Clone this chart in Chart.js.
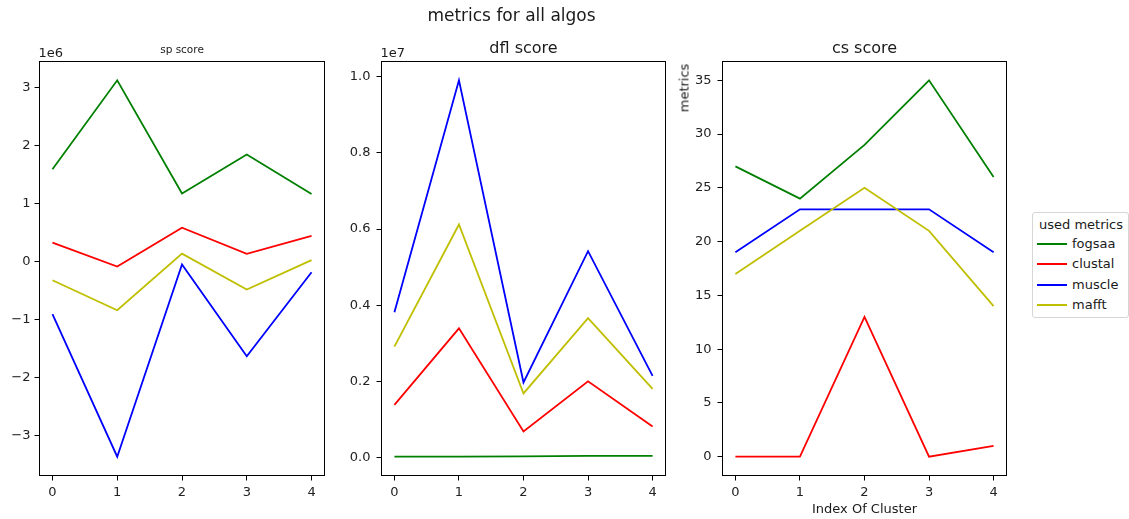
<!DOCTYPE html>
<html><head><meta charset="utf-8">
<script src="https://cdn.jsdelivr.net/npm/chart.js@4.4.1/dist/chart.umd.min.js"></script>
<style>
html,body{margin:0;padding:0;background:#fff;width:1129px;height:519px;overflow:hidden;font-family:"DejaVu Sans",sans-serif;color:#1a1a1a}
canvas{position:absolute;left:0;top:0}
.t{position:absolute;white-space:nowrap;line-height:1}
.c{transform:translateX(-50%)}
</style></head><body>
<canvas id="c1" width="1129" height="519"></canvas>
<canvas id="c2" width="1129" height="519"></canvas>
<canvas id="c3" width="1129" height="519"></canvas>

<div class="t c" style="left:511.5px;top:6.6px;font-size:17px">metrics for all algos</div>
<div class="t c" style="left:182px;top:44.2px;font-size:10.5px">sp score</div>
<div class="t c" style="left:523.5px;top:39.5px;font-size:16px">dfl score</div>
<div class="t c" style="left:864.5px;top:39.5px;font-size:16px">cs score</div>
<div class="t" style="left:38.5px;top:46.3px;font-size:13px">1e6</div>
<div class="t" style="left:380.5px;top:46.3px;font-size:13px">1e7</div>
<div class="t" style="left:683.5px;top:87.5px;font-size:13px;transform:translate(-50%,-50%) rotate(-90deg)">metrics</div>
<div class="t c" style="left:864.5px;top:502px;font-size:13px">Index Of Cluster</div>
<div id="legend" style="position:absolute;left:1032px;top:212px;width:97px;height:106px;border:1px solid #d6d6d6;border-radius:3px;background:#fff;box-sizing:border-box"></div>

<script>
const clusterIndex = [0, 1, 2, 3, 4];
const seriesNames = ['fogsaa', 'clustal', 'muscle', 'mafft'];
const seriesColors = ['#008000', '#ff0000', '#0000ff', '#bfbf00'];

const spFogsaa  = [1598000, 3130000, 1180000, 1850000, 1170000];
const spClustal = [333000, -80000, 590000, 138000, 450000];
const spMuscle  = [-900000, -3357000, -46000, -1626000, -178000];
const spMafft   = [-316000, -833000, 143000, -477000, 30000];

const dflFogsaa  = [18000, 20000, 25000, 37000, 37000];
const dflClustal = [1380000, 3390000, 680000, 2000000, 810000];
const dflMuscle  = [3816000, 9910000, 1970000, 5420000, 2140000];
const dflMafft   = [2910000, 6120000, 1680000, 3660000, 1800000];

const csFogsaa  = [27, 24, 29, 35, 26];
const csClustal = [0, 0, 13, 0, 1];
const csMuscle  = [19, 23, 23, 23, 19];
const csMafft   = [17, 21, 25, 21, 14];

const spTicks  = [-3e6, -2e6, -1e6, 0, 1e6, 2e6, 3e6];
const dflTicks = [0, 2e6, 4e6, 6e6, 8e6, 1e7];
const csTicks  = [0, 5, 10, 15, 20, 25, 30, 35];

const W = 1129, H = 519, yW = 35, xH = 30;
const tickFont = {family: 'DejaVu Sans', size: 13};

const frame = {
  id: 'frame',
  afterDraw(c) {
    const a = c.chartArea, ctx = c.ctx;
    ctx.save();
    ctx.strokeStyle = '#000';
    ctx.lineWidth = 1;
    ctx.strokeRect(a.left, a.top, a.right - a.left, a.bottom - a.top);
    ctx.restore();
  }
};

function makeChart(id, values, yTicks, fmt, area, yPad) {
  const all = values.flat();
  const lo = Math.min(...all), hi = Math.max(...all), m = (hi - lo) * 0.05;
  const n = values.length;
  return new Chart(document.getElementById(id), {
    type: 'line',
    data: {
      datasets: values.map((v, i) => ({
        label: seriesNames[i],
        data: v.map((y, j) => ({x: clusterIndex[j], y: y})),
        borderColor: seriesColors[i],
        backgroundColor: seriesColors[i],
        borderWidth: 1.8,
        pointRadius: 0,
        tension: 0,
        fill: false,
        order: n - i
      }))
    },
    options: {
      responsive: false,
      animation: false,
      devicePixelRatio: 1,
      layout: {padding: {left: area.l - yW, right: W - area.r, top: area.t, bottom: H - area.b - xH}},
      plugins: {legend: {display: false}, tooltip: {enabled: false}, title: {display: false}},
      scales: {
        x: {
          type: 'linear', min: -0.2, max: 4.2,
          afterBuildTicks: s => { s.ticks = clusterIndex.map(v => ({value: v})); },
          afterFit: s => { s.height = xH; },
          grid: {drawOnChartArea: false, drawTicks: true, tickLength: 5, color: '#000', tickColor: '#000', lineWidth: 1},
          border: {display: false},
          ticks: {padding: 4, color: '#222', font: tickFont, autoSkip: false, maxRotation: 0, callback: v => String(v)}
        },
        y: {
          type: 'linear', min: lo - m, max: hi + m,
          afterBuildTicks: s => { s.ticks = yTicks.map(v => ({value: v})); },
          afterFit: s => { s.width = yW; },
          grid: {drawOnChartArea: false, drawTicks: true, tickLength: 5, color: '#000', tickColor: '#000', lineWidth: 1},
          border: {display: false},
          ticks: {padding: yPad, color: '#222', font: tickFont, autoSkip: false, callback: fmt}
        }
      }
    },
    plugins: [frame]
  });
}

const minus = s => s.replace('-', '\u2212');
makeChart('c1', [spFogsaa, spClustal, spMuscle, spMafft], spTicks,
  v => minus(String(Math.round(v / 1e6))), {l: 39.5, r: 324.5, t: 61.5, b: 475.5}, 4);
makeChart('c2', [dflFogsaa, dflClustal, dflMuscle, dflMafft], dflTicks,
  v => (v / 1e7).toFixed(1), {l: 381.5, r: 665.5, t: 61.5, b: 475.5}, 6);
makeChart('c3', [csFogsaa, csClustal, csMuscle, csMafft], csTicks,
  v => String(v), {l: 722.5, r: 1006.5, t: 61.5, b: 475.5}, 6);

// legend
const lg = document.getElementById('legend');
const title = document.createElement('div');
title.className = 't';
title.style.cssText = 'left:6px;top:5px;font-size:13px';
title.textContent = 'used metrics';
lg.appendChild(title);
seriesNames.forEach((name, i) => {
  const base = 246.5 + 20.5 * i - 212;
  const line = document.createElement('div');
  line.style.cssText = 'position:absolute;left:4px;width:30px;height:2px;top:' + (base - 5) + 'px;background:' + seriesColors[i];
  lg.appendChild(line);
  const txt = document.createElement('div');
  txt.className = 't';
  txt.style.cssText = 'left:39px;font-size:13px;top:' + (base - 11) + 'px';
  txt.textContent = name;
  lg.appendChild(txt);
});
</script>
</body></html>
